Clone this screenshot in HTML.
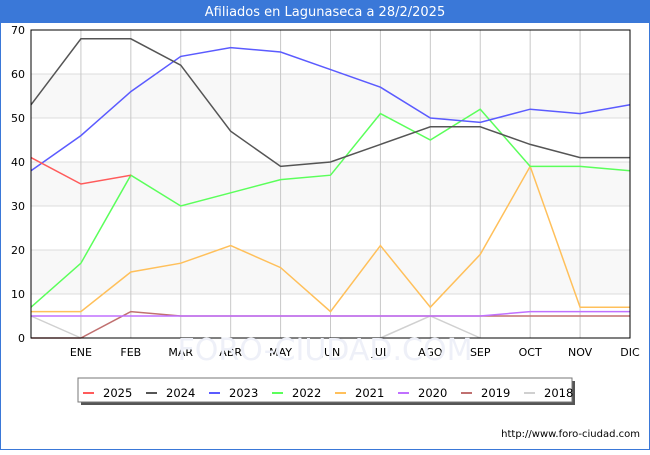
<!DOCTYPE html>
<html><head><meta charset="utf-8"><style>
body{margin:0;width:650px;height:450px;overflow:hidden;font-family:"Liberation Sans","DejaVu Sans",sans-serif;}
</style></head><body>
<svg width="650" height="450" xmlns="http://www.w3.org/2000/svg" font-family="DejaVu Sans, Liberation Sans, sans-serif">
<rect x="0" y="0" width="650" height="450" fill="#fff" stroke="#3a78d8" stroke-width="2"/>
<rect x="0" y="0" width="650" height="23" fill="#3a78d8"/>
<text x="325" y="16" text-anchor="middle" fill="#fff" font-size="13">Afiliados en Lagunaseca a 28/2/2025</text>
<g id="plot"></g>
<text x="325" y="360" text-anchor="middle" font-size="30" fill="#eef0f8">FORO-CIUDAD.COM</text>
<text x="640" y="437" text-anchor="end" font-size="10" fill="#000">http://www.foro-ciudad.com</text>
</svg>
<script>
const months=["","ENE","FEB","MAR","ABR","MAY","JUN","JUL","AGO","SEP","OCT","NOV","DIC"];
const yTicks=[0,10,20,30,40,50,60,70];
const years=["2025","2024","2023","2022","2021","2020","2019","2018"];
const colors=["#ff5b5b","#555555","#5b5bff","#5bff5b","#ffc05b","#c070ff","#c07070","#d0d0d0"];
const s2025=[41,35,37];
const s2024=[53,68,68,62,47,39,40,44,48,48,44,41,41];
const s2023=[38,46,56,64,66,65,61,57,50,49,52,51,53];
const s2022=[7,17,37,30,33,36,37,51,45,52,39,39,38];
const s2021=[6,6,15,17,21,16,6,21,7,19,39,7,7];
const s2020=[5,5,5,5,5,5,5,5,5,5,6,6,6];
const s2019=[0,0,6,5,5,5,5,5,5,5,5,5,5];
const s2018=[5,0,null,null,null,null,null,0,5,0,null,null,null];
const series=[s2025,s2024,s2023,s2022,s2021,s2020,s2019,s2018];
const L=31,R=630,T=30,B=338,ymax=70;
const x=i=>L+i*(R-L)/(months.length-1);
const y=v=>B-v*(B-T)/ymax;
const NS="http://www.w3.org/2000/svg";
const g=document.getElementById('plot');
function mk(t,a){const e=document.createElementNS(NS,t);for(const k in a)e.setAttribute(k,a[k]);g.appendChild(e);return e;}
for(let i=0;i<yTicks.length-1;i++){
 const r=mk('rect',{x:L,y:y(yTicks[i+1]),width:R-L,height:y(yTicks[i])-y(yTicks[i+1]),fill:i%2==0?'#ffffff':'#f8f8f8'});
 
 
}
yTicks.forEach(v=>{
 const l=mk('line',{x1:L,x2:R,y1:y(v),y2:y(v),stroke:'#dddddd'});
 
 
 const t=mk('text',{x:L-6,y:y(v)+4,'text-anchor':'end','font-size':11,fill:'#000'});
 t.textContent=v;
 
 
});
months.forEach((m,i)=>{
 if(i==0)return;
 const l=mk('line',{x1:x(i),x2:x(i),y1:T,y2:B,stroke:'#c8c8c8'});
 
 
 const t=mk('text',{x:x(i),y:B+18,'text-anchor':'middle','font-size':11,fill:'#000'});
 t.textContent=m;
 
 
});
for(let k=series.length-1;k>=0;k--){
 const d=series[k];let p='',pen=false;
 d.forEach((v,i)=>{if(v===null){pen=false;return;}p+=(pen?'L':'M')+x(i)+' '+y(v)+' ';pen=true;});
 const e=mk('path',{d:p,fill:'none',stroke:colors[k],'stroke-width':1.5});
 
 
}
const fr=mk('rect',{x:L,y:T,width:R-L,height:B-T,fill:'none',stroke:'#000'});


const sh=mk('rect',{x:81,y:381,width:494,height:24,fill:'#555'});


const lb=mk('rect',{x:78,y:378,width:494,height:24,fill:'#fff',stroke:'#777'});


years.forEach((yr,k)=>{
 const bx=83+k*63;
 const l=mk('line',{x1:bx,x2:bx+11,y1:393,y2:393,stroke:colors[k],'stroke-width':2});
 
 
 const t=mk('text',{x:bx+20,y:397,'font-size':11.5,fill:'#000'});
 t.textContent=yr;
 
 
});
</script>
</body></html>
